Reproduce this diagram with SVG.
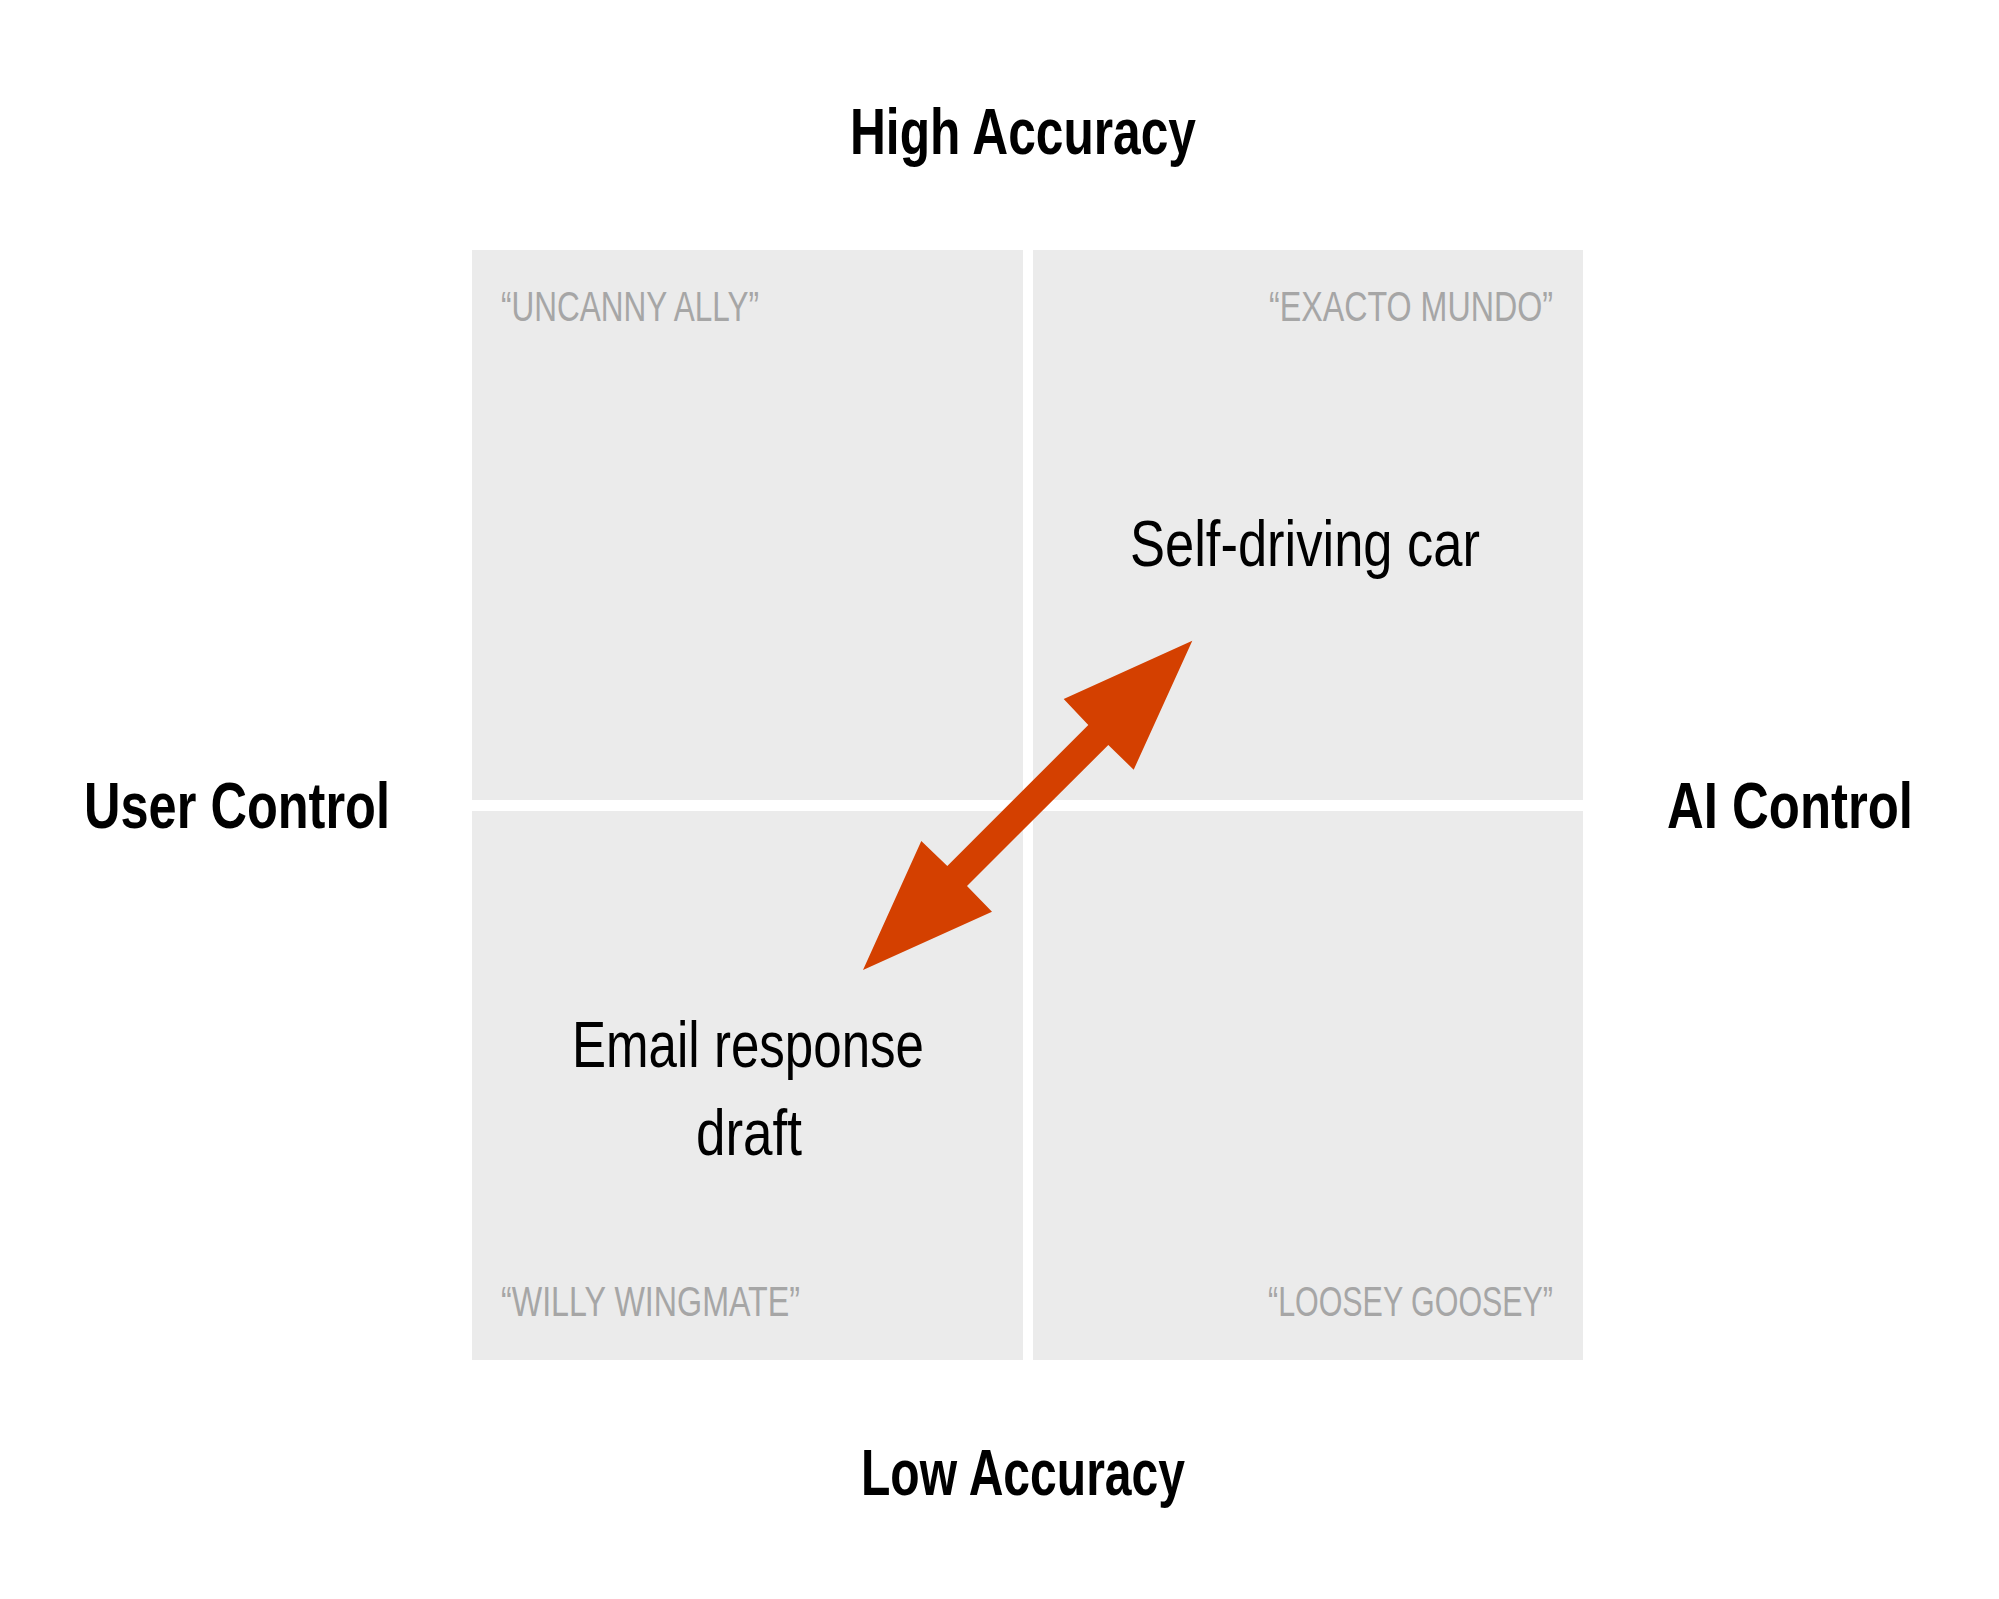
<svg xmlns="http://www.w3.org/2000/svg" width="1999" height="1599" viewBox="0 0 1999 1599">
<style>
.quad{fill:#ebebeb}
.tag{font-family:"Liberation Sans",Arial,sans-serif;font-size:43px;fill:#a6a6a6}
.axis{font-family:"Liberation Sans",Arial,sans-serif;font-size:64px;font-weight:bold;fill:#000}
.item{font-family:"Liberation Sans",Arial,sans-serif;font-size:64px;fill:#000}
.arrow{fill:#d44000}
</style>
<rect width="1999" height="1599" fill="#fff"/>
<g id="q-uncanny-ally">
<rect class="quad" x="472" y="250" width="551" height="550"/>
<text class="tag" x="501" y="321" textLength="258" lengthAdjust="spacingAndGlyphs">“UNCANNY ALLY”</text>
</g>
<g id="q-exacto-mundo">
<rect class="quad" x="1033" y="250" width="550" height="550"/>
<text class="tag" x="1269" y="321" textLength="284" lengthAdjust="spacingAndGlyphs">“EXACTO MUNDO”</text>
</g>
<g id="q-willy-wingmate">
<rect class="quad" x="472" y="811" width="551" height="549"/>
<text class="tag" x="501" y="1316" textLength="299" lengthAdjust="spacingAndGlyphs">“WILLY WINGMATE”</text>
</g>
<g id="q-loosey-goosey">
<rect class="quad" x="1033" y="811" width="550" height="549"/>
<text class="tag" x="1268" y="1316" textLength="285" lengthAdjust="spacingAndGlyphs">“LOOSEY GOOSEY”</text>
</g>
<g id="self-driving-car">
<text class="item" x="1130" y="566" textLength="350" lengthAdjust="spacingAndGlyphs">Self-driving car</text>
</g>
<g id="email-response-draft">
<text class="item" x="572" y="1067" textLength="352" lengthAdjust="spacingAndGlyphs">Email response</text>
<text class="item" x="696" y="1155" textLength="106" lengthAdjust="spacingAndGlyphs">draft</text>
</g>
<g id="axis-high"><text class="axis" x="850" y="154" textLength="346" lengthAdjust="spacingAndGlyphs">High Accuracy</text></g>
<g id="axis-low"><text class="axis" x="861" y="1495" textLength="324" lengthAdjust="spacingAndGlyphs">Low Accuracy</text></g>
<g id="axis-user"><text class="axis" x="84" y="828" textLength="306" lengthAdjust="spacingAndGlyphs">User Control</text></g>
<g id="axis-ai"><text class="axis" x="1667" y="828" textLength="246" lengthAdjust="spacingAndGlyphs">AI Control</text></g>
<g id="connectors">
<polygon class="arrow" points="1192.3,640.7 1133.7,769.7 1108.3,745 967,886 992,911.7 863,970 921.3,841 947.3,866 1088.3,725 1063.7,699"/>
</g>
</svg>
